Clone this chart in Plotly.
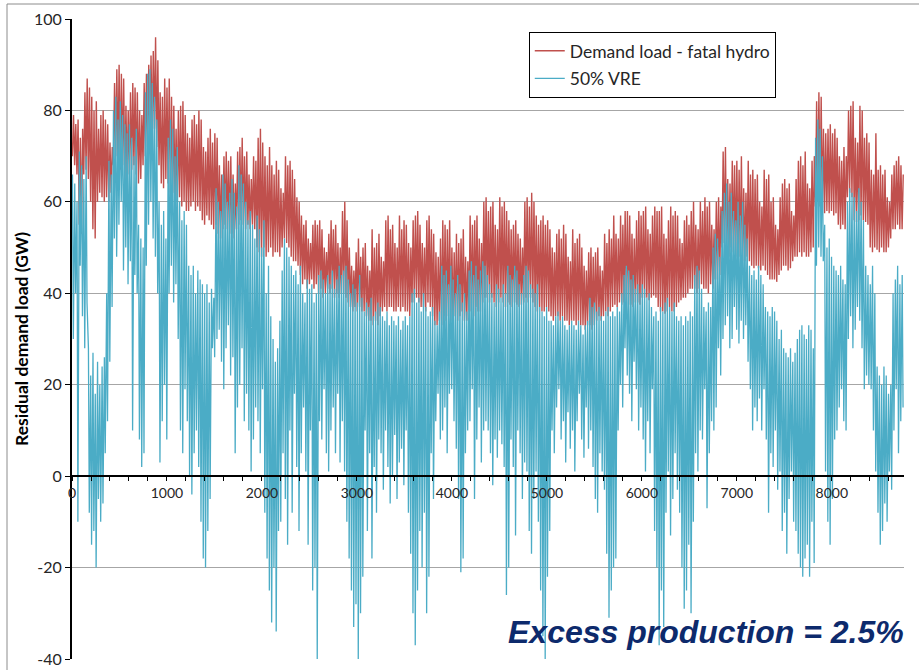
import numpy as np
import plotly.graph_objects as go

# Daily envelope of the residual load, GW (one value per day, 365 days).
# Demand load minus fatal hydro: daytime peak and night-time trough.
demand_peak = [
    79, 77, 78, 74, 76, 84, 87,
    85, 83, 80, 82, 76, 79, 80,
    78, 77, 73, 72, 86, 89, 90,
    88, 87, 81, 80, 84, 86, 85,
    84, 80, 79, 86, 88, 90, 92,
    93, 96, 91, 84, 83, 87, 85,
    87, 83, 81, 76, 80, 81, 82,
    79, 75, 74, 78, 79, 77, 80,
    78, 72, 71, 74, 76, 73, 75,
    74, 68, 66, 70, 71, 69, 70,
    66, 64, 71, 72, 74, 70, 71,
    66, 65, 70, 69, 74, 76, 73,
    70, 68, 72, 68, 66, 69, 67,
    63, 62, 70, 68, 69, 67, 65,
    61, 60, 57, 55, 56, 52, 51,
    55, 56, 55, 56, 54, 50, 49,
    53, 56, 54, 55, 51, 50, 58,
    60, 56, 50, 46, 45, 49, 52,
    48, 50, 51, 46, 45, 54, 50,
    51, 53, 48, 47, 56, 57, 54,
    55, 51, 50, 57, 54, 56, 55,
    51, 50, 56, 57, 58, 55, 51,
    50, 56, 57, 54, 53, 49, 48,
    52, 56, 55, 54, 56, 50, 49,
    53, 51, 52, 54, 48, 47, 57,
    55, 56, 57, 52, 51, 60, 61,
    58, 59, 60, 55, 54, 61, 59,
    60, 58, 56, 54, 55, 56, 53,
    52, 50, 60, 61, 59, 62, 60,
    57, 55, 56, 57, 55, 56, 54,
    50, 49, 53, 54, 52, 55, 53,
    48, 47, 54, 51, 52, 53, 50,
    46, 45, 49, 50, 48, 49, 50,
    46, 45, 53, 51, 54, 52, 57,
    53, 52, 57, 55, 58, 58, 57,
    53, 52, 56, 58, 57, 58, 59,
    54, 53, 57, 59, 58, 58, 59,
    53, 52, 56, 59, 57, 58, 57,
    52, 51, 56, 57, 55, 58, 60,
    55, 54, 60, 58, 61, 59, 60,
    55, 54, 60, 61, 59, 71, 72,
    65, 64, 69, 68, 69, 67, 70,
    63, 62, 69, 66, 67, 65, 66,
    60, 59, 67, 65, 66, 60, 61,
    55, 54, 61, 64, 65, 63, 64,
    58, 57, 65, 69, 70, 68, 71,
    64, 63, 69, 70, 82, 84, 83,
    76, 75, 76, 77, 75, 76, 74,
    70, 69, 72, 70, 80, 81, 82,
    74, 73, 81, 80, 74, 75, 73,
    67, 66, 75, 67, 68, 66, 67,
    61, 60, 66, 68, 69, 70, 68,
    66,
]
demand_trough = [
    70, 68, 66, 55, 53, 66, 67,
    65, 60, 54, 52, 60, 62, 61,
    60, 61, 60, 62, 68, 70, 69,
    67, 68, 64, 65, 66, 67, 68,
    66, 64, 65, 68, 70, 72, 73,
    74, 76, 72, 68, 64, 63, 65,
    64, 62, 62, 60, 60, 61, 59,
    60, 58, 58, 59, 60, 58, 59,
    58, 56, 55, 57, 56, 55, 54,
    55, 53, 52, 54, 55, 54, 53,
    53, 52, 54, 55, 56, 55, 54,
    55, 54, 55, 54, 50, 49, 48,
    50, 48, 49, 50, 48, 49, 49,
    48, 50, 52, 51, 50, 48, 47,
    47, 46, 44, 42, 43, 41, 42,
    43, 41, 42, 40, 41, 39, 40,
    41, 40, 41, 39, 40, 39, 40,
    40, 39, 38, 37, 36, 37, 36,
    37, 36, 36, 35, 34, 34, 33,
    34, 33, 35, 36, 37, 36, 37,
    37, 36, 36, 37, 36, 37, 36,
    36, 35, 38, 38, 39, 38, 37,
    37, 36, 38, 37, 35, 33, 33,
    34, 33, 35, 34, 35, 34, 33,
    35, 34, 35, 36, 34, 34, 36,
    36, 35, 37, 36, 36, 38, 39,
    39, 38, 39, 38, 37, 38, 39,
    38, 37, 38, 37.5, 37, 38, 37.5,
    37, 37.5, 38, 39, 38, 39, 38,
    37, 36, 37, 36, 36, 37, 36,
    35, 34, 35, 35, 34, 35, 34,
    34, 33, 34, 34, 33, 34, 33,
    33, 32, 33, 33, 32, 33, 34,
    35, 34, 35, 36, 35, 36, 37,
    37.5, 37, 38, 37.5, 38, 38, 37.5,
    37.5, 37, 38, 38, 37.5, 39, 39,
    39, 38.5, 39, 39.5, 39, 37, 36,
    36, 35.5, 36, 37, 36, 36, 37,
    38, 38.5, 39, 39, 40, 41, 41,
    41, 40, 41, 42, 41, 41, 40,
    42, 41, 43, 43, 44, 50, 51,
    49, 48, 50, 49, 48, 47.5, 48,
    47, 47, 48, 47, 46, 45.5, 46,
    45.5, 45, 46, 45, 44, 43, 43,
    43, 42.5, 44, 45, 46, 46, 45,
    45.5, 47, 48, 48, 49, 48, 49,
    48, 48, 49, 50, 59, 60, 59,
    58, 57.5, 58, 57.5, 58, 57, 57.5,
    55, 54, 55, 54, 61, 62, 61,
    56, 55.6, 56, 57, 56, 55.6, 55,
    50, 49, 50, 49.5, 49, 50, 49,
    49, 50, 52, 54, 54, 55, 54,
    54,
]

# Residual load with 50% variable renewables: daily high and daily low.
vre_high = [
    66, 64, 60, 71, 68, 65, 70,
    28, 22, 27, 18, 25, 20, 24,
    26, 40, 69, 66, 80, 83, 78,
    82, 79, 77, 75, 77, 74, 70,
    76, 55, 52, 50, 84, 88, 89,
    86, 83, 78, 60, 55, 58, 52,
    74, 78, 76, 70, 72, 60, 56,
    58, 55, 46, 44, 46, 40, 45,
    43, 42, 40, 42, 38, 41, 39,
    63, 60, 58, 66, 64, 60, 62,
    65, 62, 59, 68, 66, 64, 60,
    56, 58, 55, 52, 57, 54, 50,
    56, 40, 46, 35, 30, 25, 28,
    34, 45, 52, 50, 48, 46, 44,
    45, 42, 46, 40, 38, 43, 41,
    42, 38, 40, 44, 45, 43, 40,
    44, 42, 45, 41, 43, 46, 44,
    45, 46, 43, 40, 42, 41, 38,
    44, 39, 36, 38, 37, 39, 35,
    36, 38, 37, 35, 34, 36, 33,
    35, 34, 33, 35, 32, 34, 35,
    33, 35, 40, 41, 38, 39, 36,
    40, 37, 35, 36, 37, 34, 33,
    36, 46, 44, 45, 42, 46, 43,
    40, 44, 42, 38, 40, 36, 45,
    47, 44, 46, 43, 45, 47, 46,
    44, 42, 40, 38, 42, 41, 39,
    42, 40, 46, 44, 43, 46, 45,
    42, 40, 44, 46, 45, 42, 41,
    40, 42, 37, 36, 35, 37, 34,
    34, 33, 35, 36, 34, 35, 33,
    32, 33, 34, 33, 32, 34, 33,
    31, 33, 34, 39, 37, 38, 36,
    37, 35, 34, 36, 37, 35, 36,
    35, 37, 36, 40, 44, 46, 45,
    43, 44, 41, 42, 40, 42, 41,
    39, 40, 37, 35, 36, 34, 37,
    36, 38, 39, 37, 36, 38, 35,
    34, 35, 33, 35, 34, 36, 35,
    44, 46, 45, 41, 37, 36, 38,
    37, 50, 53, 52, 48, 58, 62,
    64, 60, 62, 58, 56, 60, 57,
    60, 55, 52, 46, 44, 45, 43,
    46, 44, 42, 37, 36, 35, 37,
    36, 34, 30, 32, 28, 27, 26,
    28, 25, 27, 30, 32, 33, 31,
    30, 33, 32, 28, 74, 78, 76,
    70, 55, 50, 52, 48, 46, 45,
    44, 46, 43, 42, 60, 63, 62,
    61, 58, 63, 60, 56, 46, 44,
    42, 46, 40, 24, 22, 20, 24,
    22, 18, 20, 40, 43, 46, 42,
    44,
]
vre_low = [
    30, 40, -10, 46, 35, 28, 38,
    -8, -15, -12, -20, -5, -10, -6,
    5, 12, 25, 37, 52, 48, 55,
    60, 45, 50, 42, 47, 10, 44,
    40, 8, 2, 5, 46, 55, 60,
    52, 48, 40, 3, 12, 20, 8,
    40, 46, 38, 42, 30, 10, 5,
    19, 12, 0, -4, 5, 10, 2,
    -10, -18, -20, -12, -5, 28, 26,
    30, 32, 25, 19, 28, 33, 22,
    26, 5, 15, 20, 28, 12, 18,
    10, 1, 8, 15, 12, 5, 19,
    -8, -18, -25, -32, -20, -34, -12,
    -10, 5, -5, -15, 10, -8, 18,
    2, -12, 5, 15, 1, -15, 10,
    -25, -20, -40, 12, 8, 19, 5,
    1, 10, 15, 5, 18, 3, 12,
    1, -10, -18, -25, -33, -28, -40,
    -30, -22, 10, -12, 5, -18, 2,
    -8, 8, 5, -3, 10, 2, -6,
    0, 9, -5, 3, 6, -2, 10,
    -8, -17, -30, -37, -25, -12, -20,
    -8, -30, -22, 5, -5, 12, 18,
    8, 10, 15, 5, 18, 19, 12,
    6, -5, -21, -18, 5, 10, 12,
    19, -5, 8, 15, 3, 10, 12,
    10, 5, -2, 8, 4, 10, 7,
    2, -26, -20, 8, 2, -13, 10,
    5, -5, 3, 1, -12, -17, -5,
    1, -10, -25, -35, -40, -22, -12,
    10, 5, 15, 19, 8, 12, 3,
    14, 6, 10, 1, 12, 18, 8,
    4, 15, 6, 10, 2, -5, -8,
    5, 1, -3, -17, -31, -25, -20,
    -18, 10, 20, 15, 28, 22, 18,
    12, 25, 19, 10, 15, 8, 1,
    12, 5, 19, -12, -20, -37, -25,
    -33, -8, 1, -13, -5, 5, -3,
    -8, -20, -29, -25, -15, -30, -10,
    5, 1, 10, 8, 19, -7, 5,
    12, 10, 15, 28, 22, 30, 33,
    35, 28, 30, 37, 32, 29, 34,
    30, 33, 25, 19, 10, 15, 12,
    17, 10, 19, 8, -8, 5, 2,
    10, -3, 1, -12, -8, -17, -5,
    1, -10, -12, -17, -20, -22, -18,
    -15, -22, -10, -19, 46, 50, 48,
    47, 1, -10, -15, -5, 8, 10,
    15, 19, 12, 10, 30, 35, 28,
    32, 37, 34, 28, 19, 22, 20,
    19, 10, 1, -8, -15, -12, -6,
    -10, 1, -3, 10, 19, 5, 12,
    15,
]

y_tick_values = [100, 80, 60, 40, 20, 0, -20, -40]
y_tick_labels = ["100", "80", "60", "40", "20", "0", "-20", "-40"]
x_tick_values = [0, 1000, 2000, 3000, 4000, 5000, 6000, 7000, 8000]
x_tick_labels = ["0", "1000", "2000", "3000", "4000", "5000", "6000", "7000", "8000"]

series_names = ["Demand load - fatal hydro", "50% VRE"]
note_text = "Excess production = 2.5%"

RED = "#C0504D"
TEAL = "#4BACC6"


def daily_line(first, second, first_hour, second_hour):
    """Interleave two daily values into an hourly-positioned polyline."""
    first = np.asarray(first, dtype=float)
    second = np.asarray(second, dtype=float)
    n = len(first)
    day = np.arange(n) * 24
    x = np.empty(2 * n)
    y = np.empty(2 * n)
    x[0::2] = day + first_hour
    x[1::2] = day + second_hour
    y[0::2] = first
    y[1::2] = second
    return x, y


assert len(demand_peak) == len(demand_trough) == len(vre_high) == len(vre_low) == 365

dx, dy = daily_line(demand_trough, demand_peak, 4, 16)
vx, vy = daily_line(vre_high, vre_low, 5, 14)

fig = go.Figure()
fig.add_trace(go.Scatter(
    x=dx, y=dy, mode="lines", name=series_names[0], legendgroup="a",
    line=dict(color=RED, width=1.4), hoverinfo="skip",
))
fig.add_trace(go.Scatter(
    x=vx, y=vy, mode="lines", name=series_names[1], legendgroup="b",
    line=dict(color=TEAL, width=1.3), hoverinfo="skip",
))

fig.update_layout(
    width=919, height=670,
    margin=dict(l=72, r=15, t=19, b=11),
    paper_bgcolor="white", plot_bgcolor="white",
    font=dict(family="Lato, 'Open Sans', sans-serif", color="#262626"),
    showlegend=True,
    legend=dict(
        x=0.549, y=0.98, xanchor="left", yanchor="top",
        bgcolor="white", bordercolor="black", borderwidth=1,
        font=dict(size=17.5, color="#262626"),
        traceorder="grouped", tracegroupgap=2, itemwidth=30,
    ),
    xaxis=dict(
        range=[0, 8760], anchor="free", position=(40 / 140),
        automargin=False,
        tickvals=x_tick_values, ticktext=x_tick_labels,
        showgrid=False, zeroline=False,
        showline=True, linecolor="black", linewidth=2,
        ticks="outside", ticklen=4, tickwidth=1, tickcolor="black",
        minor=dict(dtick=200, tick0=0, ticks="outside", ticklen=4,
                   tickcolor="black", showgrid=False),
        tickfont=dict(size=14, color="#262626"),
    ),
    yaxis=dict(
        range=[-40, 100], tickvals=y_tick_values, ticktext=y_tick_labels,
        automargin=False,
        showgrid=True, gridcolor="#A6A6A6", gridwidth=1,
        zeroline=False, showline=True, linecolor="black", linewidth=2,
        ticks="outside", ticklen=5, tickwidth=1, tickcolor="black",
        tickfont=dict(size=16, color="#262626"),
        title=dict(text="<b>Residual demand load (GW)</b>",
                   font=dict(size=17.5, color="black"), standoff=1),
    ),
    annotations=[dict(
        text="<b><i>" + note_text + "</i></b>",
        xref="paper", yref="paper", x=1.002, y=0.042,
        xanchor="right", yanchor="middle", showarrow=False,
        font=dict(family="Liberation Sans, Arial, sans-serif", size=32,
                  color="#0D2A6C"),
    )],
    shapes=[dict(
        type="rect", xref="paper", yref="paper", layer="below",
        x0=-65 / 832, x1=1.2, y0=-0.2, y1=655 / 640,
        line=dict(color="#8C8C8C", width=1), fillcolor="rgba(0,0,0,0)",
    )],
)

fig.write_html("out.html")
